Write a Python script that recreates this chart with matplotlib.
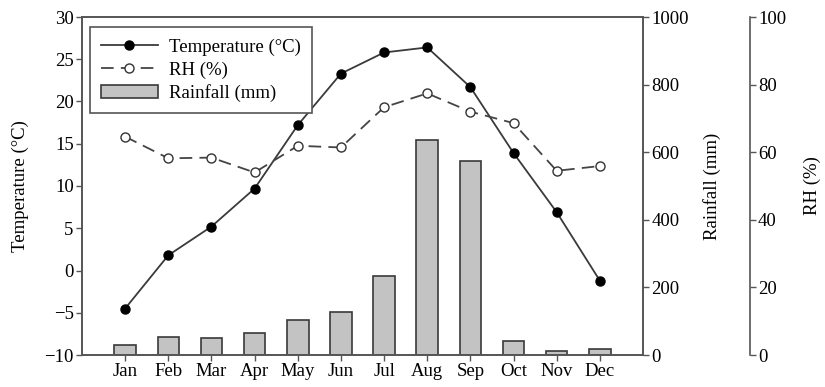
import matplotlib
matplotlib.use("Agg")
import matplotlib.pyplot as plt
from matplotlib.patches import Patch
from matplotlib.lines import Line2D
import numpy as np

months = ["Jan", "Feb", "Mar", "Apr", "May", "Jun", "Jul", "Aug", "Sep", "Oct", "Nov", "Dec"]
temperature = [-4.5, 1.8, 5.2, 9.7, 17.2, 23.3, 25.8, 26.4, 21.7, 13.9, 6.9, -1.2]
rh = [64.6, 58.2, 58.4, 54.0, 61.9, 61.4, 73.3, 77.4, 72.0, 68.6, 54.5, 55.9]
rainfall = [31, 53, 51, 66, 105, 128, 234, 636, 574, 41, 11, 17]

plt.rcParams['font.family'] = ['Liberation Serif', 'DejaVu Serif']
plt.rcParams['font.size'] = 13.5

fig = plt.figure(figsize=(8.25, 3.87), dpi=100)
ax = fig.add_axes([82/825, 32/387, 561/825, 338/387])
ax2 = ax.twinx()
ax3 = ax.twinx()

x = np.arange(len(months))
spine_col = '#555555'

# bars (rainfall)
ax2.bar(x, rainfall, width=0.5, color='#c3c3c3', edgecolor='#3a3a3a', linewidth=1.2, zorder=2)
ax2.set_ylim(0, 1000)
ax2.set_yticks([0, 200, 400, 600, 800, 1000])
ax2.set_ylabel("Rainfall (mm)", labelpad=10)

# temperature
ax.plot(x, temperature, color='#3a3a3a', linewidth=1.3, marker='o', markersize=6.5,
        markerfacecolor='black', markeredgecolor='black', zorder=3)
ax.set_ylim(-10, 30)
ax.set_yticks(range(-10, 31, 5))
ax.set_yticklabels([("\u2212%d" % abs(v)) if v < 0 else str(v) for v in range(-10, 31, 5)])
ax.set_xlim(-1, 12)
ax.set_xticks(x)
ax.set_xticklabels(months)
ax.set_ylabel("Temperature (°C)", labelpad=11)

# RH
ax3.plot(x, rh, color='#444444', linewidth=1.3, dashes=(7, 4), marker='o', markersize=6.5,
         markerfacecolor='white', markeredgecolor='#333333', zorder=3)
ax3.set_ylim(0, 100)
ax3.set_yticks(range(0, 101, 20))
ax3.spines['right'].set_position(('axes', 1.19))
ax3.set_ylabel("RH (%)", labelpad=13)
for sp in ['left', 'top', 'bottom']:
    ax3.spines[sp].set_visible(False)

ax2.set_zorder(0)
ax.set_zorder(1)
ax3.set_zorder(2)
for a in (ax, ax2, ax3):
    a.patch.set_visible(False)
    a.tick_params(direction='out', length=4, width=1, color=spine_col, pad=2)

for sp in ax.spines.values():
    sp.set_color(spine_col)
    sp.set_linewidth(1.2)
for sp in ax2.spines.values():
    sp.set_color(spine_col)
    sp.set_linewidth(1.2)
ax3.spines['right'].set_color(spine_col)
ax3.spines['right'].set_linewidth(1.2)

handles = [
    Line2D([], [], color='#3a3a3a', linewidth=1.3, marker='o', markersize=6.5,
           markerfacecolor='black', markeredgecolor='black'),
    Line2D([], [], color='#444444', linewidth=1.3, dashes=(7, 4), marker='o', markersize=6.5,
           markerfacecolor='white', markeredgecolor='#333333'),
    Patch(facecolor='#c3c3c3', edgecolor='#3a3a3a', linewidth=1.2),
]
labels = ["Temperature (°C)", "RH (%)", "Rainfall (mm)"]
leg = ax3.legend(handles, labels, loc='upper left', bbox_to_anchor=(0.0143, 0.970),
                 borderaxespad=0, fancybox=False, framealpha=1, edgecolor='#555555',
                 handlelength=3.0, handletextpad=0.6, labelspacing=0.3, borderpad=0.6)
leg.get_frame().set_linewidth(1.2)

fig.savefig("out.png", dpi=100, facecolor='white')
